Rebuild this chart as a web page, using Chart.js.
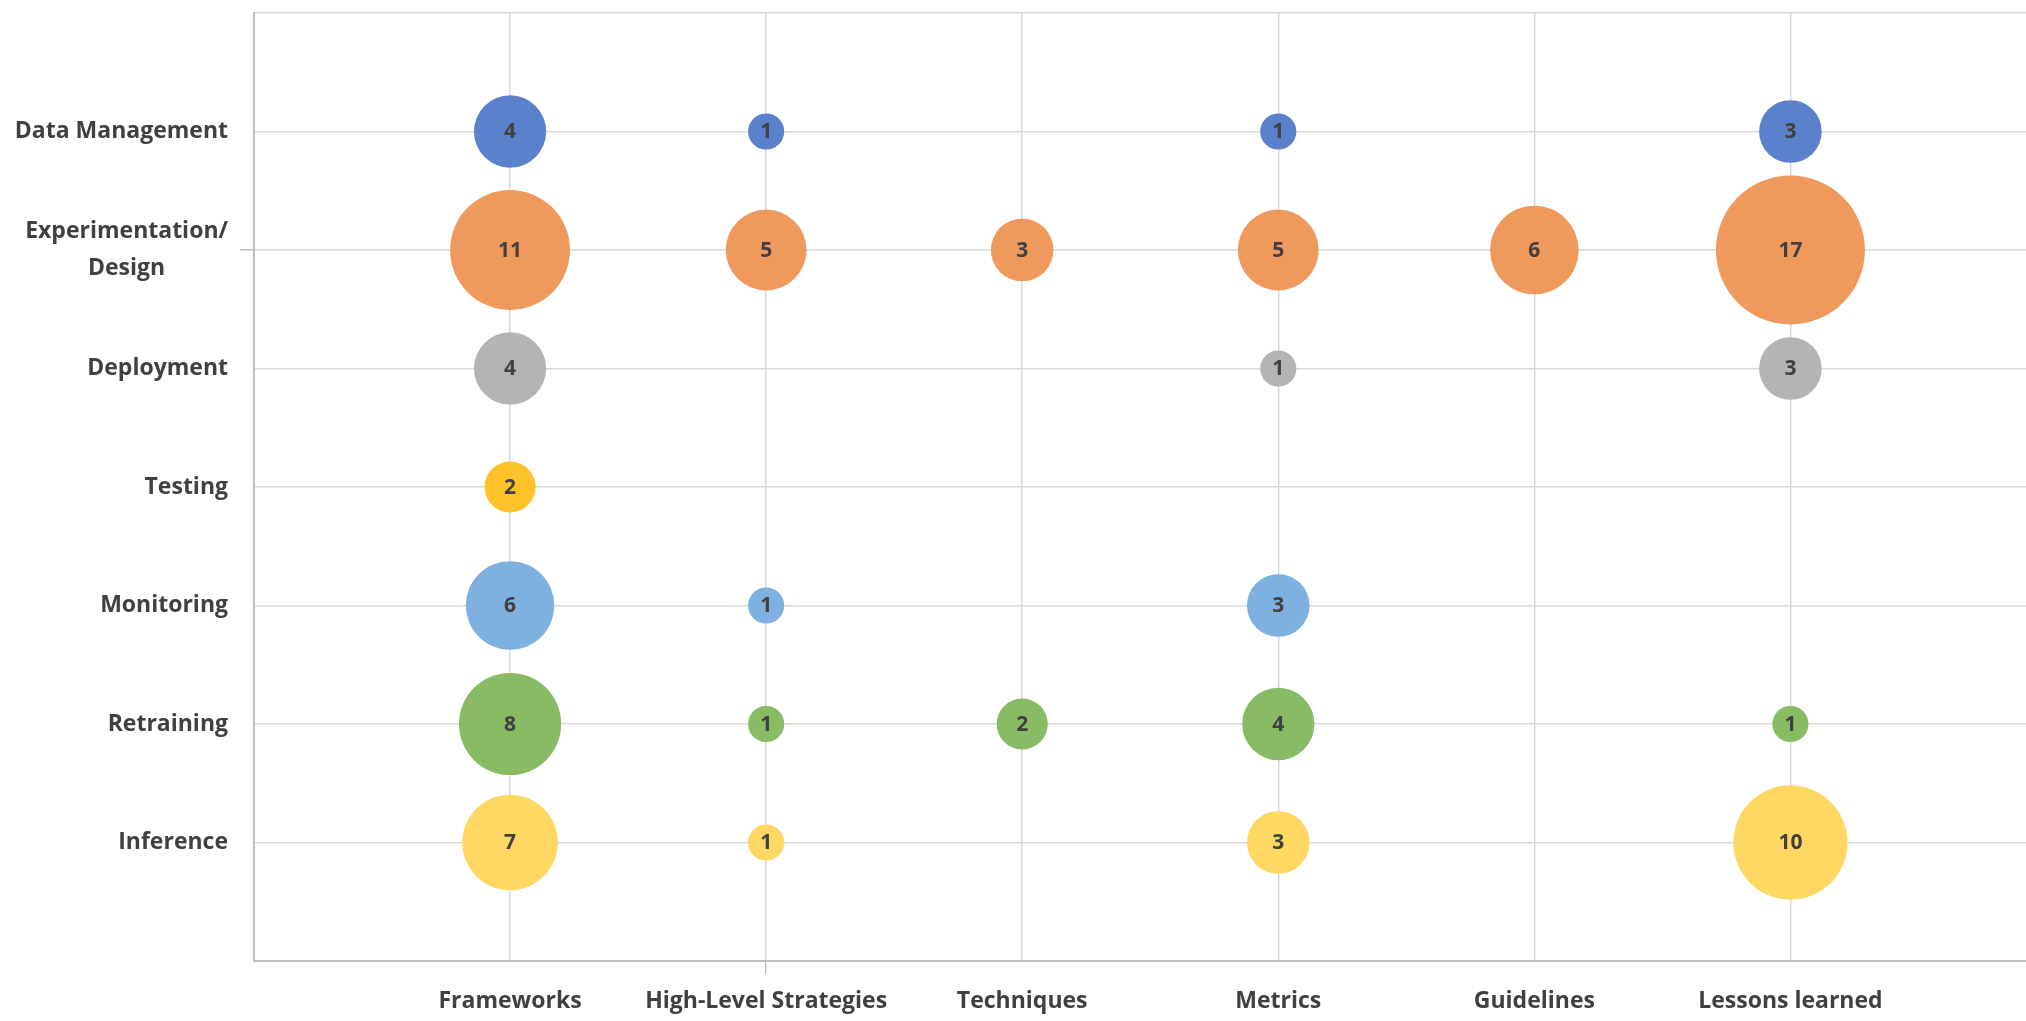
<!DOCTYPE html>
<html>
<head>
<meta charset="utf-8">
<script src="https://cdn.jsdelivr.net/npm/chart.js@4"></script>
<style>
  html, body { margin: 0; padding: 0; background: #fff; overflow: hidden; }
  #chart { display: block; }
</style>
</head>
<body>
<canvas id="chart" width="2026" height="1021"></canvas>
<script>
// ----- Data -----
const xCats = ['Frameworks', 'High-Level Strategies', 'Techniques', 'Metrics', 'Guidelines', 'Lessons learned'];
const yCats = ['Data Management', ['Experimentation/', 'Design'], 'Deployment', 'Testing', 'Monitoring', 'Retraining', 'Inference'];

const dataManagement  = [4, 1, null, 1, null, 3];
const experimentation = [11, 5, 3, 5, 6, 17];
const deployment      = [4, null, null, 1, null, 3];
const testing         = [2, null, null, null, null, null];
const monitoring      = [6, 1, null, 3, null, null];
const retraining      = [8, 1, 2, 4, null, 1];
const inference       = [7, 1, null, 3, null, 10];

const rows = [dataManagement, experimentation, deployment, testing, monitoring, retraining, inference];
const colors = ['#5b80cc', '#f0995c', '#b4b4b4', '#ffc329', '#7eb0e0', '#88bb63', '#ffd863'];

// bubble area proportional to value (largest bubble ~74px radius)
const maxVal = Math.max(...rows.flat().filter(v => v != null));
const radius = v => 74.5 * Math.sqrt(v / maxVal);

const datasets = rows.map((vals, r) => ({
    label: Array.isArray(yCats[r]) ? yCats[r].join(' ') : yCats[r],
    data: vals.map((v, c) => v == null ? null : { x: c + 1, y: r + 1, r: radius(v), v: v }).filter(p => p),
    backgroundColor: colors[r],
    borderWidth: 0
}));

const labelFont = 'bold 23px "Open Sans"';
const textColor = '#404040';

// ----- Plugins -----
// value labels inside bubbles
const bubbleLabels = {
    id: 'bubbleLabels',
    afterDatasetsDraw(chart) {
        const ctx = chart.ctx;
        ctx.save();
        ctx.font = 'bold 21px "Open Sans"';
        ctx.fillStyle = textColor;
        ctx.textAlign = 'center';
        ctx.textBaseline = 'middle';
        chart.data.datasets.forEach((ds, i) => {
            chart.getDatasetMeta(i).data.forEach((el, j) => {
                ctx.fillText(ds.data[j].v, el.x, el.y + 1);
            });
        });
        ctx.restore();
    }
};

// row labels on the left (block right-aligned, lines centred within block)
const rowLabels = {
    id: 'rowLabels',
    afterDraw(chart) {
        const ctx = chart.ctx;
        const yScale = chart.scales.y;
        const right = chart.chartArea.left - 26;
        const lineH = 37;
        ctx.save();
        ctx.font = labelFont;
        ctx.fillStyle = textColor;
        ctx.textBaseline = 'middle';
        yCats.forEach((lab, i) => {
            const lines = Array.isArray(lab) ? lab : [lab];
            const y0 = yScale.getPixelForValue(i + 1) - (lines.length - 1) * lineH / 2;
            const widest = Math.max(...lines.map(l => ctx.measureText(l).width));
            ctx.textAlign = 'center';
            lines.forEach((l, k) => ctx.fillText(l, right - widest / 2, y0 + k * lineH));
        });
        ctx.restore();
    }
};

// ----- Chart -----
const ctx = document.getElementById('chart').getContext('2d');
new Chart(ctx, {
    type: 'bubble',
    data: { datasets: datasets },
    options: {
        responsive: false,
        animation: false,
        events: [],
        layout: { autoPadding: false, padding: { top: 13, right: 0, left: 0, bottom: 0 } },
        plugins: {
            legend: { display: false },
            tooltip: { enabled: false }
        },
        scales: {
            x: {
                type: 'linear',
                min: 0,
                max: 6.92,
                afterFit: s => { s.height = 60; },
                border: { color: '#bfbfbf', width: 2 },
                grid: {
                    color: '#d9d9d9',
                    lineWidth: 1.5,
                    tickLength: 13,
                    tickColor: c => (c.tick && c.tick.value === 2) ? '#bfbfbf' : 'rgba(0,0,0,0)'
                },
                ticks: {
                    stepSize: 1,
                    includeBounds: false,
                    maxRotation: 0,
                    autoSkip: false,
                    padding: 14,
                    color: textColor,
                    font: { family: 'Open Sans', size: 23, weight: 'bold' },
                    callback: v => xCats[v - 1] || ''
                }
            },
            y: {
                type: 'linear',
                reverse: true,
                min: 0,
                max: 8,
                afterFit: s => { s.width = 254; },
                border: { color: '#bfbfbf', width: 2 },
                grid: {
                    color: '#d9d9d9',
                    lineWidth: 1.5,
                    tickLength: 14,
                    tickColor: c => (c.tick && c.tick.value === 2) ? '#bfbfbf' : 'rgba(0,0,0,0)'
                },
                ticks: { display: false, stepSize: 1, includeBounds: false }
            }
        }
    },
    plugins: [bubbleLabels, rowLabels]
});
</script>
</body>
</html>
